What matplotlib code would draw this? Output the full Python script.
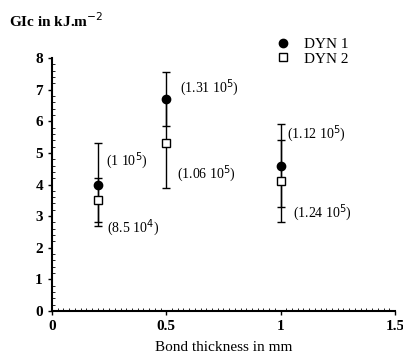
import matplotlib.pyplot as plt
from matplotlib.lines import Line2D
from matplotlib.ticker import MultipleLocator

plt.rcParams['font.family'] = ['Liberation Serif', 'DejaVu Serif']

thickness = [0.2, 0.5, 1.0]
dyn1 = [4.0, 6.7, 4.6]
dyn1_err = [1.3, 0.85, 1.3]
dyn2 = [3.5, 5.3, 4.1]
dyn2_err = [0.7, 1.4, 1.3]

notes = ["(1 10$^5$)", "(8.5 10$^4$)", "(1.31 10$^5$)", "(1.06 10$^5$)",
         "(1.12 10$^5$)", "(1.24 10$^5$)"]
note_x = [0.235, 0.24, 0.56, 0.545, 1.03, 1.055]
note_y = [4.75, 2.65, 7.05, 4.35, 5.6, 3.1]

fig = plt.figure(figsize=(4.03, 3.6), dpi=100)
ax = fig.add_axes([0.129, 0.136, 0.851, 0.703])

ax.errorbar(thickness, dyn1, yerr=dyn1_err, fmt='o', color='black', ms=6,
            ecolor='black', elinewidth=1, capsize=3, zorder=3)
ax.errorbar(thickness, dyn2, yerr=dyn2_err, fmt='s', mfc='white', mec='black',
            ms=5.5, ecolor='black', elinewidth=1, capsize=3, zorder=4)

for t, xx, yy in zip(notes, note_x, note_y):
    ax.text(xx, yy, t, fontsize=10, va='center', ha='left')

ax.set_xlim(0, 1.5)
ax.set_ylim(0, 8)
ax.set_xticks([0, 0.5, 1, 1.5])
ax.set_xticklabels(['0', '0.5', '1', '1.5'])
ax.xaxis.set_minor_locator(MultipleLocator(0.025))
ax.yaxis.set_minor_locator(MultipleLocator(0.2))
ax.tick_params(which='major', direction='out', length=3, width=1, labelsize=11)
ax.tick_params(which='minor', direction='in', length=2, width=0.6)
for lab in ax.get_xticklabels() + ax.get_yticklabels():
    lab.set_fontweight('bold')
ax.spines['top'].set_visible(False)
ax.spines['right'].set_visible(False)
ax.spines['left'].set_linewidth(1.5)
ax.spines['bottom'].set_linewidth(1.5)

ax.set_xlabel('Bond thickness in mm', fontsize=11, labelpad=6)
fig.text(0.022, 0.943, 'GIc in kJ.m$^{-2}$', fontsize=11, fontweight='bold',
         va='center', ha='left')

handles = [Line2D([], [], marker='o', ls='', color='black', ms=6),
           Line2D([], [], marker='s', ls='', mfc='white', mec='black', ms=5.5)]
ax.legend(handles, ['DYN 1', 'DYN 2'], loc='upper left',
          bbox_to_anchor=(0.61, 1.135), frameon=False, fontsize=11,
          handlelength=1.0, handletextpad=0.9, labelspacing=0.05)

fig.savefig('out.png', dpi=100)
